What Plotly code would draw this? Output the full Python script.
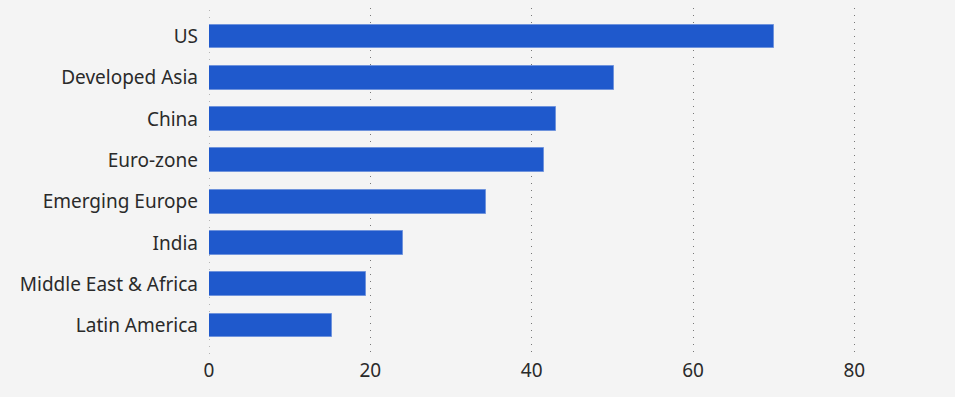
import plotly.graph_objects as go

categories = ["US", "Developed Asia", "China", "Euro-zone", "Emerging Europe",
              "India", "Middle East & Africa", "Latin America"]
values = [70.0, 50.2, 43.0, 41.5, 34.3, 24.0, 19.5, 15.3]
x_ticks = [0, 20, 40, 60, 80]

BG = "#f4f4f4"
BAR = "#1f59cc"

fig = go.Figure(go.Bar(
    x=values, y=categories, orientation="h",
    width=0.58,
    marker=dict(color=BAR, line=dict(color="#6f93dc", width=1)),
    hoverinfo="skip",
))

# dotted grid line at the zero position (plotly omits it)
fig.add_shape(type="line", xref="x", yref="paper", x0=x_ticks[0], x1=x_ticks[0],
              y0=0, y1=1, layer="below",
              line=dict(color="#777777", width=1, dash="1px,6px"))

fig.update_layout(
    width=955, height=397,
    margin=dict(l=209, r=20, t=8, b=43),
    paper_bgcolor=BG, plot_bgcolor=BG,
    font=dict(family="Noto Sans, Open Sans, sans-serif", size=19, color="#2a2a2a"),
    showlegend=False,
    bargap=0,
)
fig.update_xaxes(
    range=[0, 90], tickvals=x_ticks, ticktext=[str(t) for t in x_ticks],
    showgrid=True, gridcolor="#777777", gridwidth=1, griddash="1px,6px",
    zeroline=False, showline=False, ticks="", ticklabelstandoff=3,
)
fig.update_yaxes(
    type="category", categoryorder="array", categoryarray=categories,
    range=[7.69, -0.69], showgrid=False, zeroline=False, showline=False,
    ticks="", ticklabelstandoff=10,
)

fig.write_html(
    "out.html",
    config={"displayModeBar": False},
    post_script="document.body.style.margin='0';document.body.style.background='%s';" % BG,
)
